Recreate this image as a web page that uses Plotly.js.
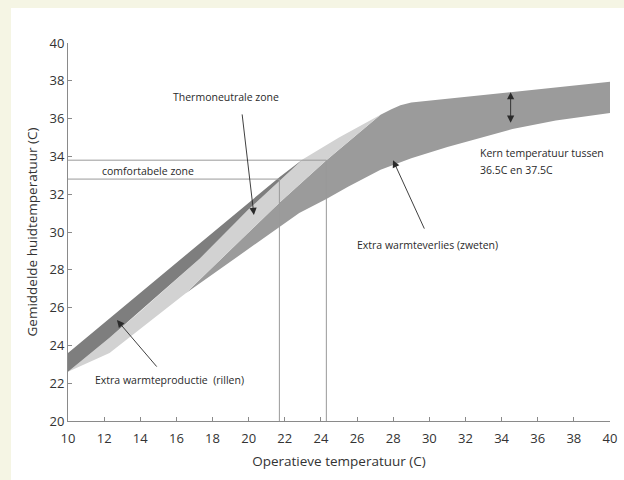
<!DOCTYPE html>
<html>
<head>
<meta charset="utf-8">
<script src="https://cdn.plot.ly/plotly-3.0.1.min.js"></script>
<style>
  html, body { margin: 0; padding: 0; background: #f5f5e4; width: 624px; height: 480px; overflow: hidden; }
  #chart { position: absolute; left: 11px; top: 8px; width: 613px; height: 472px; background: #ffffff; }
</style>
</head>
<body>
<div id="chart"></div>
<script>
// Top edge of the band
const topX = [10, 21.7, 23, 25, 27.3, 27.9, 28.4, 29, 40];
const topY = [23.6, 32.9, 33.85, 35.0, 36.2, 36.5, 36.7, 36.85, 37.95];
// Bottom edge of the band
const botX = [10, 12.3, 16.5, 21.7, 22.8, 24.3, 25.5, 27.3, 29, 31, 34.6, 37, 40];
const botY = [22.6, 23.6, 26.75, 30.25, 31.0, 31.75, 32.4, 33.3, 33.9, 34.5, 35.45, 35.9, 36.3];
// Lower edge of the shivering (dark) band
const shivX = [10, 12.3, 14, 17.3, 20, 23];
const shivY = [22.6, 24.4, 25.8, 28.6, 31.2, 33.85];
// Boundary between thermoneutral (light) and sweating (medium) zone
const sweatX = [16.5, 21.7, 24.3, 27.3];
const sweatY = [26.75, 31.55, 33.8, 36.2];
// Comfort zone limits
const comfortY = [32.8, 33.8];
const comfortX = [21.7, 24.3];

const xTicks = [10,12,14,16,18,20,22,24,26,28,30,32,34,36,38,40];
const yTicks = [20,22,24,26,28,30,32,34,36,38,40];

function seg(xs, ys, x0, x1) {
  const ox = [], oy = [];
  for (let i = 0; i < xs.length; i++) {
    if (xs[i] >= x0 - 1e-9 && xs[i] <= x1 + 1e-9) { ox.push(xs[i]); oy.push(ys[i]); }
  }
  return [ox, oy];
}
function rev(a) { return a.slice().reverse(); }

const cDark = '#7e7e7e', cMed = '#9b9b9b', cLight = '#d2d2d2';

// Dark: top from 10 to 23, shivering line back
const [tDx, tDy] = seg(topX, topY, 10, 23);
const darkX = tDx.concat(rev(shivX));
const darkY = tDy.concat(rev(shivY));

// Light: shiv line 10->23, top 23->27.3, sweat line back 27.3->16.5, bottom back 16.5->10
const [tLx, tLy] = seg(topX, topY, 23, 27.3);
const [bLx, bLy] = seg(botX, botY, 10, 16.5);
const lightX = shivX.concat(tLx.slice(1), rev(sweatX).slice(1), rev(bLx).slice(1));
const lightY = shivY.concat(tLy.slice(1), rev(sweatY).slice(1), rev(bLy).slice(1));

// Medium: bottom 16.5->40, top back 40->27.3, sweat back 27.3->16.5
const [bMx, bMy] = seg(botX, botY, 16.5, 40);
const [tMx, tMy] = seg(topX, topY, 27.3, 40);
const medX = bMx.concat(rev(tMx), rev(sweatX).slice(1));
const medY = bMy.concat(rev(tMy), rev(sweatY).slice(1));

const lineStyle = {color: '#999999', width: 1};
const traces = [
  {x: medX, y: medY, fill: 'toself', fillcolor: cMed, mode: 'lines', line: {width: 0}, hoverinfo: 'skip'},
  {x: lightX, y: lightY, fill: 'toself', fillcolor: cLight, mode: 'lines', line: {width: 0}, hoverinfo: 'skip'},
  {x: darkX, y: darkY, fill: 'toself', fillcolor: cDark, mode: 'lines', line: {width: 0}, hoverinfo: 'skip'},
  {x: [10, comfortX[1], comfortX[1]], y: [comfortY[1], comfortY[1], 20], mode: 'lines', line: lineStyle, hoverinfo: 'skip'},
  {x: [10, comfortX[0], comfortX[0]], y: [comfortY[0], comfortY[0], 20], mode: 'lines', line: lineStyle, hoverinfo: 'skip'}
];

const txtFont = {family: 'Open Sans, sans-serif', size: 10.5, color: '#2a2a2a'};
function label(text, x, y, anchor) {
  return {text: text, x: x, y: y, xref: 'x', yref: 'y', showarrow: false, xanchor: anchor || 'left', yanchor: 'middle', font: txtFont};
}
function arrow(x, y, ax, ay, side) {
  return {x: x, y: y, ax: ax, ay: ay, xref: 'x', yref: 'y', axref: 'x', ayref: 'y', text: '', showarrow: true,
          arrowhead: 2, startarrowhead: 2, arrowside: side || 'end', arrowsize: 1.6, startarrowsize: 1.6, arrowwidth: 0.9, arrowcolor: '#2a2a2a'};
}

const annotations = [
  label('Thermoneutrale zone', 18.74, 37.14, 'center'),
  label('comfortabele zone', 11.77, 33.23),
  label('Extra warmteverlies (zweten)', 25.88, 29.31),
  label('Extra warmteproductie  (rillen)', 11.38, 22.17),
  label('Kern temperatuur tussen', 32.69, 34.18),
  label('36.5C en 37.5C', 32.69, 33.28),
  {text: '<b>B) Zwaarlijvig</b>', x: 10.83, y: 40.26, xref: 'x', yref: 'y', showarrow: false, xanchor: 'left', yanchor: 'middle',
   font: {family: 'Open Sans, sans-serif', size: 9, color: '#222'}},
  arrow(20.29, 30.9, 19.63, 36.3),
  arrow(27.99, 33.8, 29.76, 30.1),
  arrow(12.71, 25.34, 14.98, 22.8),
  arrow(34.5, 37.4, 34.5, 35.7, 'end+start')
];

const axisCommon = {
  showgrid: false, zeroline: false, showline: true, linecolor: '#8a8a8a', linewidth: 1,
  ticks: 'inside', ticklen: 4, tickcolor: '#8a8a8a', tickwidth: 1,
  tickfont: {family: 'Open Sans, sans-serif', size: 13, color: '#333333'},
  fixedrange: true
};

const layout = {
  width: 613, height: 472,
  margin: {l: 57, r: 14, t: 35, b: 59},
  paper_bgcolor: '#ffffff', plot_bgcolor: '#ffffff',
  showlegend: false,
  xaxis: Object.assign({}, axisCommon, {
    range: [10, 40], tickvals: xTicks, ticktext: xTicks.map(String), ticklabelstandoff: 5,
    title: {text: 'Operatieve temperatuur (C)', standoff: 10, font: {family: 'Open Sans, sans-serif', size: 13.5, color: '#333333'}}
  }),
  yaxis: Object.assign({}, axisCommon, {
    range: [20, 40], tickvals: yTicks, ticktext: yTicks.map(String),
    title: {text: 'Gemiddelde huidtemperatuur (C)', standoff: 8, font: {family: 'Open Sans, sans-serif', size: 13.5, color: '#333333'}}
  }),
  annotations: annotations
};

Plotly.newPlot('chart', traces, layout, {displayModeBar: false, staticPlot: true});
</script>
</body>
</html>
